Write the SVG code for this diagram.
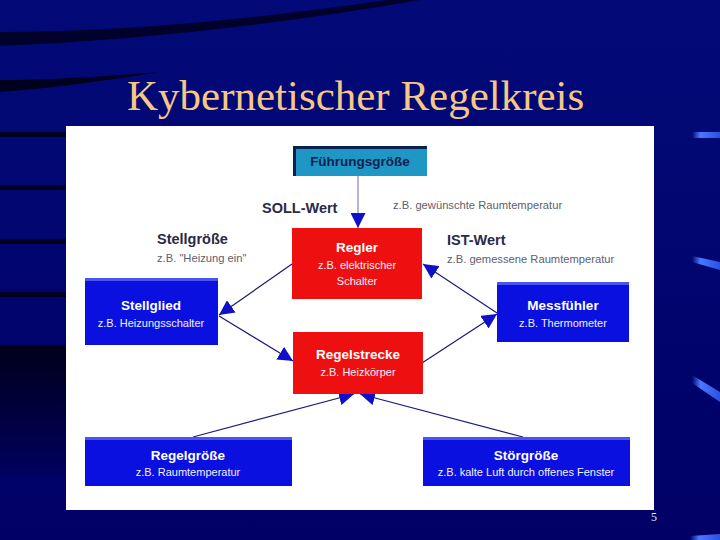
<svg xmlns="http://www.w3.org/2000/svg" width="720" height="540" viewBox="0 0 720 540">
<defs>
<linearGradient id="bg" x1="0" y1="0" x2="0" y2="1">
<stop offset="0" stop-color="#020a78"/>
<stop offset="1" stop-color="#000066"/>
</linearGradient>
<linearGradient id="leftdark" x1="0" y1="0" x2="0" y2="1">
<stop offset="0" stop-color="#00001a"/>
<stop offset="1" stop-color="#000060"/>
</linearGradient>
<linearGradient id="hl" x1="0" y1="0" x2="1" y2="0">
<stop offset="0" stop-color="#4a78ff" stop-opacity="0"/>
<stop offset="0.3" stop-color="#4a78ff"/>
<stop offset="1" stop-color="#2a50e0"/>
</linearGradient>
<marker id="ah" viewBox="0 0 10 10" refX="10" refY="5" markerWidth="15" markerHeight="15" markerUnits="userSpaceOnUse" orient="auto">
<path d="M0,0 L10,5 L0,10 Z" fill="#1010c8"/>
</marker>
<style>
.title{font-family:"Liberation Serif","Times New Roman",serif;font-size:43px;fill:#f6c785}
.bt{font-family:"Liberation Sans",Arial,sans-serif;font-size:13.5px;font-weight:bold;fill:#ffffff;text-anchor:middle}
.bs{font-family:"Liberation Sans",Arial,sans-serif;font-size:11px;fill:#f0f0ff;text-anchor:middle}
.lt{font-family:"Liberation Sans",Arial,sans-serif;font-size:14.5px;font-weight:bold;fill:#2a2a48}
.ls{font-family:"Liberation Sans",Arial,sans-serif;font-size:11.2px;fill:#606070}
.blue{fill:#0a10e0}
.bluetop{fill:#4a55f0}
.red{fill:#ee1010}
.con{stroke:#1a1a78;stroke-width:1.2;fill:none;marker-end:url(#ah)}
</style>
</defs>
<!-- background -->
<rect x="0" y="0" width="720" height="540" fill="url(#bg)"/>
<path d="M0,32 Q180,32 420,-5 L420,0 Q200,38 0,46 Z" fill="#000018" opacity="0.8"/>
<path d="M0,80 Q60,80 160,72 Q60,88 0,92 Z" fill="#00000f" opacity="0.85"/>
<rect x="0" y="132" width="66" height="5" fill="#000020"/>
<rect x="0" y="185" width="66" height="5" fill="#000020"/>
<rect x="0" y="239" width="66" height="5" fill="#000020"/>
<rect x="0" y="292" width="66" height="5" fill="#000020"/>
<rect x="0" y="345" width="66" height="130" fill="url(#leftdark)"/>
<path d="M692,132 L720,132 L720,138 L692,138 Z" fill="url(#hl)"/>
<path d="M692,256 L720,262 L720,270 L692,262 Z" fill="url(#hl)"/>
<path d="M692,375 L720,392 L720,402 L692,383 Z" fill="url(#hl)"/>
<path d="M690,536 L720,534 L720,540 L690,540 Z" fill="url(#hl)"/>
<!-- title -->
<text class="title" x="127" y="110">Kybernetischer Regelkreis</text>
<text x="651" y="521" font-family="Liberation Serif,serif" font-size="12" fill="#e8e8ff">5</text>
<!-- white panel -->
<rect x="66" y="126" width="588" height="384" fill="#ffffff"/>
<!-- labels -->
<text class="lt" x="262" y="213">SOLL-Wert</text>
<text class="ls" x="393" y="209">z.B. gewünschte Raumtemperatur</text>
<text class="lt" x="157" y="244">Stellgröße</text>
<text class="ls" x="157" y="262">z.B. "Heizung ein"</text>
<text class="lt" x="447" y="245">IST-Wert</text>
<text class="ls" x="447" y="263">z.B. gemessene Raumtemperatur</text>
<!-- connectors -->
<g id="connectors">
<line class="con" x1="358" y1="176" x2="358" y2="228" style="stroke:#8080b8"/>
<line class="con" x1="292" y1="264" x2="219" y2="315"/>
<line class="con" x1="219" y1="316" x2="293" y2="361"/>
<line class="con" x1="422" y1="363" x2="497" y2="314"/>
<line class="con" x1="497" y1="313" x2="423" y2="264"/>
<line class="con" x1="193" y1="437" x2="354" y2="394"/>
<line class="con" x1="523" y1="437" x2="360" y2="394"/>
</g>
<!-- nodes -->
<g id="fuehrungsgroesse">
<rect x="293" y="146" width="134" height="30" fill="#1f97c4"/>
<rect x="293" y="146" width="134" height="3" fill="#0a2050"/>
<rect x="293" y="146" width="3" height="30" fill="#0a2050"/>
<text x="360" y="166" font-family="Liberation Sans,Arial,sans-serif" font-size="13.5" font-weight="bold" fill="#102050" text-anchor="middle">Führungsgröße</text>
</g>
<g id="regler">
<rect class="red" x="292" y="228" width="130" height="71"/>
<text class="bt" x="357" y="252">Regler</text>
<text class="bs" x="357" y="269">z.B. elektrischer</text>
<text class="bs" x="357" y="285">Schalter</text>
</g>
<g id="stellglied">
<rect class="blue" x="85" y="278" width="133" height="67"/>
<rect class="bluetop" x="85" y="278" width="133" height="3"/>
<text class="bt" x="151" y="310">Stellglied</text>
<text class="bs" x="151" y="327">z.B. Heizungsschalter</text>
</g>
<g id="messfuehler">
<rect class="blue" x="497" y="282" width="132" height="60"/>
<rect class="bluetop" x="497" y="282" width="132" height="3"/>
<text class="bt" x="563" y="310">Messfühler</text>
<text class="bs" x="563" y="327">z.B. Thermometer</text>
</g>
<g id="regelstrecke">
<rect class="red" x="293" y="332" width="130" height="62"/>
<text class="bt" x="358" y="359">Regelstrecke</text>
<text class="bs" x="358" y="376">z.B. Heizkörper</text>
</g>
<g id="regelgroesse">
<rect class="blue" x="85" y="437" width="207" height="49"/>
<rect class="bluetop" x="85" y="437" width="207" height="3"/>
<text class="bt" x="188" y="460">Regelgröße</text>
<text class="bs" x="188" y="476">z.B. Raumtemperatur</text>
</g>
<g id="stoergroesse">
<rect class="blue" x="423" y="437" width="207" height="49"/>
<rect class="bluetop" x="423" y="437" width="207" height="3"/>
<text class="bt" x="526" y="460">Störgröße</text>
<text class="bs" x="526" y="476">z.B. kalte Luft durch offenes Fenster</text>
</g>
</svg>
